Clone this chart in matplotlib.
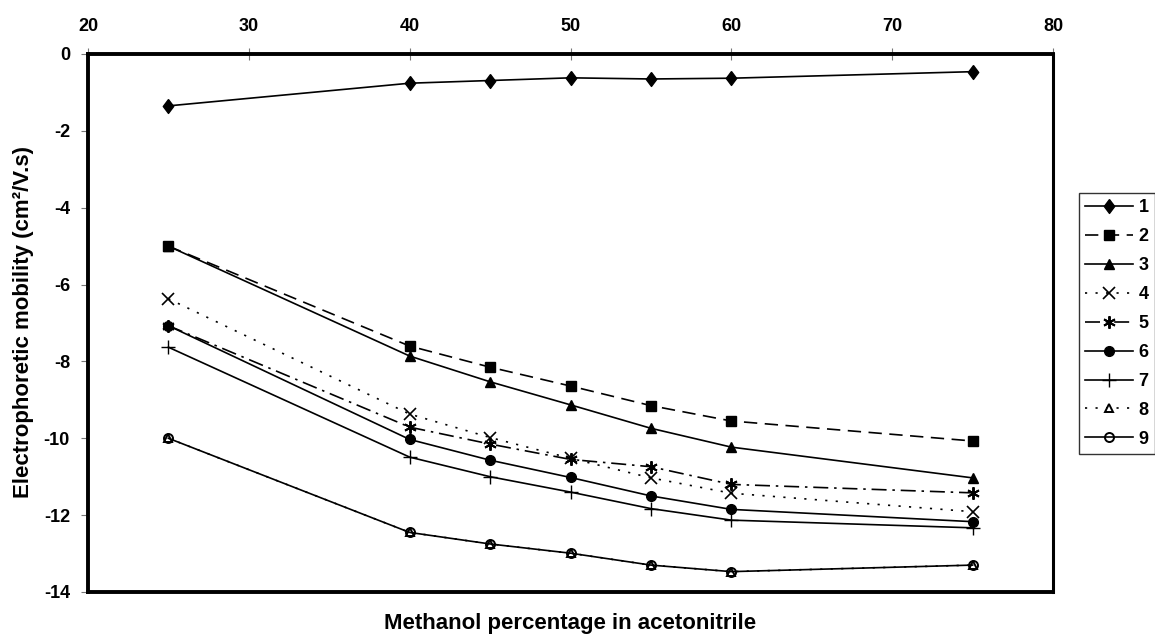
import matplotlib
matplotlib.use("Agg")
import matplotlib.pyplot as plt

plt.rcParams['font.family'] = ['Liberation Sans', 'DejaVu Sans']
plt.rcParams['font.weight'] = 'bold'
plt.rcParams['axes.unicode_minus'] = False

x = [25, 40, 45, 50, 55, 60, 75]
s1 = [-1.35, -0.76, -0.69, -0.62, -0.65, -0.63, -0.46]
s2 = [-5.0, -7.60, -8.15, -8.64, -9.15, -9.55, -10.07]
s3 = [-5.0, -7.86, -8.53, -9.13, -9.74, -10.23, -11.03]
s4 = [-6.37, -9.37, -9.98, -10.52, -11.03, -11.43, -11.91]
s5 = [-7.07, -9.71, -10.15, -10.55, -10.74, -11.20, -11.42]
s6 = [-7.07, -10.03, -10.57, -11.02, -11.50, -11.85, -12.17]
s7 = [-7.63, -10.49, -11.00, -11.40, -11.83, -12.13, -12.33]
s8 = [-10.0, -12.45, -12.75, -12.99, -13.30, -13.47, -13.30]
s9 = [-10.0, -12.45, -12.75, -12.99, -13.30, -13.47, -13.30]
labels = ['1', '2', '3', '4', '5', '6', '7', '8', '9']
x_ticks = [20, 30, 40, 50, 60, 70, 80]
y_ticks = [0, -2, -4, -6, -8, -10, -12, -14]

diamond = [(0, 1), (0.75, 0), (0, -1), (-0.75, 0), (0, 1)]
series = [s1, s2, s3, s4, s5, s6, s7, s8, s9]
styles = [
    dict(ls='-', marker=diamond, ms=10, mfc='black'),
    dict(ls=(0, (8, 4.5)), marker='s', ms=7, mfc='black'),
    dict(ls='-', marker='^', ms=7.5, mfc='black'),
    dict(ls=(0, (1.3, 5)), marker='x', ms=8, mfc='black', mew=1.2),
    dict(ls=(0, (9, 3.5, 1.5, 3.5)), marker=(6, 2, 0), ms=9, mfc='black', mew=1.4),
    dict(ls='-', marker='o', ms=7, mfc='black'),
    dict(ls='-', marker='+', ms=10, mfc='black', mew=1.0),
    dict(ls=(0, (1.3, 5)), marker='^', ms=5.5, mfc='white', mew=1.4),
    dict(ls='-', marker='o', ms=6.5, mfc='none', mew=1.4),
]

fig = plt.figure(figsize=(11.55, 6.4), dpi=100)
ax = fig.add_axes([88/1155, 1-592/640, (1053-88)/1155, (592-54)/640])

handles = []
for vals, lab, st in zip(series, labels, styles):
    h, = ax.plot(x, vals, color='black', lw=1.2, mec='black', label=lab, **st)
    handles.append(h)

ax.set_xlim(20, 80)
ax.set_ylim(-14, 0)
ax.set_xticks(x_ticks)
ax.set_yticks(y_ticks)
ax.xaxis.tick_top()
ax.tick_params(axis='x', direction='inout', length=8, width=0.8, color='#777777',
               labelsize=13, pad=10)
ax.tick_params(axis='y', direction='out', length=5, width=0.8, color='#777777',
               labelsize=13, pad=8)
for lab in ax.get_xticklabels() + ax.get_yticklabels():
    lab.set_fontweight('bold')
for sp in ax.spines.values():
    sp.set_linewidth(2.8)
ax.spines['right'].set_linewidth(2.2)

fig.text(24/1155, 1-322/640, 'Electrophoretic mobility (cm\u00b2/V.s)',
         rotation=90, ha='center', va='center', fontsize=16, fontweight='bold')
fig.text((88+1053)/2/1155, 1-623/640, 'Methanol percentage in acetonitrile',
         ha='center', va='center', fontsize=16, fontweight='bold')

leg = fig.legend(handles=handles, labels=labels, loc='upper left',
                 bbox_to_anchor=(1079/1155, 1-193/640), fontsize=13,
                 frameon=True, fancybox=False, edgecolor='black',
                 handlelength=2.65, handletextpad=0.3, labelspacing=0.66,
                 borderpad=0.35, borderaxespad=0)
leg.get_frame().set_linewidth(1.0)
for t in leg.get_texts():
    t.set_fontweight('bold')

fig.savefig('out.png', dpi=100)
